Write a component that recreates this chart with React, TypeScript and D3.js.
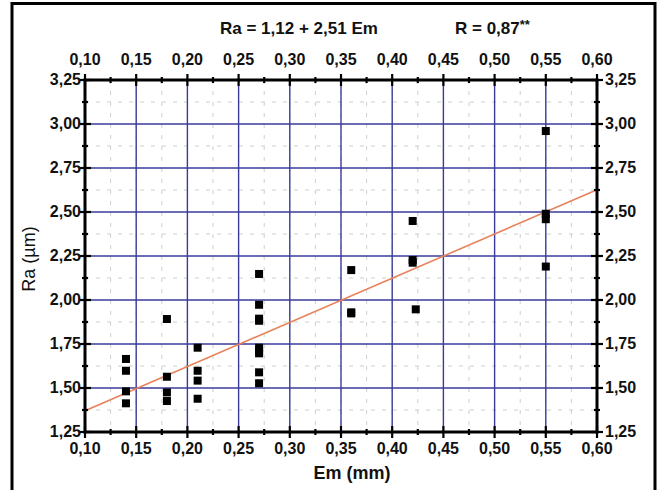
import React, { useEffect, useRef } from 'react';
import * as d3 from 'd3';

// measured points: Em (mm) vs Ra (µm)
const emValues = [0.14, 0.14, 0.14, 0.14, 0.18, 0.18, 0.18, 0.18, 0.21, 0.21, 0.21, 0.21,
  0.27, 0.27, 0.27, 0.27, 0.27, 0.27, 0.27, 0.27, 0.27, 0.36, 0.36, 0.36,
  0.42, 0.42, 0.42, 0.423, 0.55, 0.55, 0.55, 0.55];
const raValues = [1.665, 1.598, 1.481, 1.413, 1.892, 1.564, 1.475, 1.426, 1.729, 1.598, 1.542, 1.439,
  2.148, 1.973, 1.894, 1.882, 1.729, 1.712, 1.697, 1.589, 1.527, 2.17, 1.924, 1.93,
  2.449, 2.227, 2.212, 1.947, 2.96, 2.49, 2.459, 2.19];

const xTicks = [0.10, 0.15, 0.20, 0.25, 0.30, 0.35, 0.40, 0.45, 0.50, 0.55, 0.60];
const yTicks = [1.25, 1.50, 1.75, 2.00, 2.25, 2.50, 2.75, 3.00, 3.25];
const xMinor = [0.125, 0.175, 0.225, 0.275, 0.325, 0.375, 0.425, 0.475, 0.525, 0.575];
const yMinor = [1.375, 1.625, 1.875, 2.125, 2.375, 2.625, 2.875, 3.125];

const intercept = 1.12;
const slope = 2.51;

const W = 659, H = 490;
const L = 85, R = 597, T = 80, B = 432;
const FONT = 'Liberation Sans, Arial, sans-serif';

const fmt = (v: number) => d3.format('.2f')(v).replace('.', ',');

const App = () => {
  const ref = useRef<SVGSVGElement>(null);

  useEffect(() => {
    const svg = d3.select(ref.current);
    svg.selectAll('*').remove();

    const x = d3.scaleLinear().domain([0.10, 0.60]).range([L, R]);
    const y = d3.scaleLinear().domain([1.25, 3.25]).range([B, T]);

    svg.append('rect').attr('width', W).attr('height', H).attr('fill', 'white');

    // outer frame (no bottom side)
    svg.append('path')
      .attr('d', `M12,${H} L12,3.5 L655,3.5 L655,${H}`)
      .attr('fill', 'none').attr('stroke', '#000').attr('stroke-width', 3);

    // minor dashed grid
    const g = svg.append('g');
    g.selectAll('line.mx').data(xMinor.concat(xTicks)).join('line')
      .attr('x1', d => x(d)).attr('x2', d => x(d)).attr('y1', T).attr('y2', B)
      .attr('stroke', '#c9d2c9').attr('stroke-width', 1).attr('stroke-dasharray', '4,7');
    g.selectAll('line.my').data(yMinor).join('line')
      .attr('x1', L).attr('x2', R).attr('y1', d => y(d)).attr('y2', d => y(d))
      .attr('stroke', '#c9d2c9').attr('stroke-width', 1).attr('stroke-dasharray', '4,7');

    // major grid
    svg.append('g').selectAll('line').data(xTicks.slice(1, -1)).join('line')
      .attr('x1', d => x(d)).attr('x2', d => x(d)).attr('y1', T).attr('y2', B)
      .attr('stroke', '#3b3b9c').attr('stroke-width', 1.4);
    svg.append('g').selectAll('line').data(yTicks.slice(1, -1)).join('line')
      .attr('x1', L).attr('x2', R).attr('y1', d => y(d)).attr('y2', d => y(d))
      .attr('stroke', '#3b3b9c').attr('stroke-width', 1.4);

    // regression line
    const line = d3.line<number>().x(d => x(d)).y(d => y(intercept + slope * d));
    svg.append('path').datum([0.10, 0.60]).attr('d', line)
      .attr('stroke', '#e8825a').attr('stroke-width', 1.6).attr('fill', 'none');

    // points
    const s = 8;
    svg.append('g').selectAll('rect').data(emValues).join('rect')
      .attr('x', d => x(d) - s / 2)
      .attr('y', (d, i) => y(raValues[i]) - s / 2)
      .attr('width', s).attr('height', s)
      .attr('fill', '#000');

    // axes frame
    svg.append('rect').attr('x', L).attr('y', T).attr('width', R - L).attr('height', B - T)
      .attr('fill', 'none').attr('stroke', '#000').attr('stroke-width', 3);

    const ax = svg.append('g').attr('stroke', '#000').attr('stroke-width', 2.2);
    // major ticks cross the axis lines
    xTicks.forEach(v => {
      ax.append('line').attr('x1', x(v)).attr('x2', x(v)).attr('y1', T - 6).attr('y2', T + 6);
      ax.append('line').attr('x1', x(v)).attr('x2', x(v)).attr('y1', B - 6).attr('y2', B + 6);
    });
    yTicks.forEach(v => {
      ax.append('line').attr('x1', L - 6).attr('x2', L + 6).attr('y1', y(v)).attr('y2', y(v));
      ax.append('line').attr('x1', R - 6).attr('x2', R + 6).attr('y1', y(v)).attr('y2', y(v));
    });
    xMinor.forEach(v => {
      ax.append('line').attr('x1', x(v)).attr('x2', x(v)).attr('y1', T - 3).attr('y2', T + 3);
      ax.append('line').attr('x1', x(v)).attr('x2', x(v)).attr('y1', B - 3).attr('y2', B + 3);
    });
    yMinor.forEach(v => {
      ax.append('line').attr('x1', L - 3).attr('x2', L + 3).attr('y1', y(v)).attr('y2', y(v));
      ax.append('line').attr('x1', R - 3).attr('x2', R + 3).attr('y1', y(v)).attr('y2', y(v));
    });

    const txt = svg.append('g').attr('font-family', FONT)
      .attr('font-weight', 'bold').attr('font-size', 16).attr('fill', '#111');
    txt.selectAll('text.top').data(xTicks).join('text')
      .attr('x', d => x(d)).attr('y', 65).attr('text-anchor', 'middle').text(fmt);
    txt.selectAll('text.bot').data(xTicks).join('text')
      .attr('x', d => x(d)).attr('y', 454).attr('text-anchor', 'middle').text(fmt);
    txt.selectAll('text.lft').data(yTicks).join('text')
      .attr('x', 81).attr('y', d => y(d) + 5).attr('text-anchor', 'end').text(fmt);
    txt.selectAll('text.rgt').data(yTicks).join('text')
      .attr('x', 605).attr('y', d => y(d) + 5).attr('text-anchor', 'start').text(fmt);

    // axis titles
    svg.append('text').attr('x', 352).attr('y', 479).attr('text-anchor', 'middle')
      .attr('font-family', FONT).attr('font-weight', 'bold')
      .attr('font-size', 18).attr('fill', '#111').text('Em (mm)');
    svg.append('text').attr('transform', 'translate(35,259) rotate(-90)').attr('text-anchor', 'middle')
      .attr('font-family', FONT)
      .attr('font-size', 18).attr('fill', '#111').text('Ra (µm)');

    // equation header
    const head = svg.append('g').attr('font-family', FONT)
      .attr('font-weight', 'bold').attr('font-size', 17).attr('fill', '#111');
    head.append('text').attr('x', 220).attr('y', 34).text('Ra = 1,12 + 2,51 Em');
    const r = head.append('text').attr('x', 455).attr('y', 34).text('R = 0,87');
    r.append('tspan').attr('dy', -5).attr('font-size', 13).text('**');
  }, []);

  return (
    <div style={{ position: 'absolute', left: 0, top: 0 }}>
      <svg ref={ref} width={W} height={H}></svg>
    </div>
  );
};

export default App;
